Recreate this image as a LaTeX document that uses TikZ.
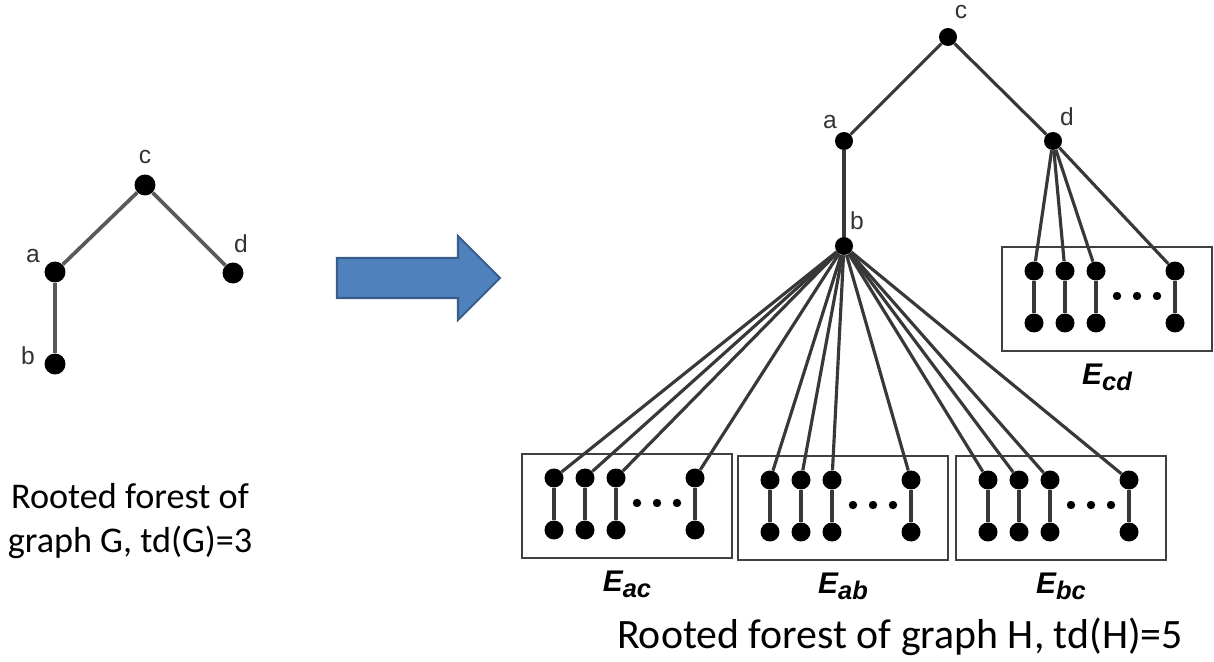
\documentclass[tikz,border=0pt]{standalone}
\usepackage{fontspec}
\setmainfont{Carlito}
\newfontfamily\arialfont{Liberation Sans}
\usetikzlibrary{positioning}

\definecolor{arrowblue}{RGB}{79,129,189}
\definecolor{arrowedge}{RGB}{56,93,138}
\definecolor{edgegray}{RGB}{56,56,56}

\tikzset{
  gdot/.style={circle, fill=black, inner sep=0pt, minimum size=0.42cm},
  hdot/.style={circle, fill=black, inner sep=0pt, minimum size=0.36cm},
  edot/.style={circle, fill=black, inner sep=0pt, minimum size=0.38cm},
  gedge/.style={draw=black!65, line width=2.1pt},
  hedge/.style={draw=edgegray, line width=1.8pt},
  ebox/.style={draw=black!75, line width=1.6pt, minimum width=4.2cm, minimum height=2.08cm, inner sep=0pt},
  vlab/.style={font=\arialfont\fontsize{14}{16}\selectfont, text=black!80, inner sep=0pt},
  elab/.style={font=\arialfont\bfseries\itshape\fontsize{17}{19}\selectfont, inner sep=0pt},
  caption/.style={font=\fontsize{20.6}{25.5}\selectfont, align=center, inner sep=0pt}
}

\begin{document}
\begin{tikzpicture}[x=0.02cm, y=-0.02cm]
    \useasboundingbox (0,0) rectangle (1214,662);

    % Arbol de G
    \node[gdot] (Gc) at (145,185) {};
    \node[gdot] (Ga) at (55,272) {};
    \node[gdot] (Gd) at (233,273) {};
    \node[gdot] (Gb) at (55,364) {};
    \draw[gedge] (Gc) -- (Ga);
    \draw[gedge] (Gc) -- (Gd);
    \draw[gedge] (Ga) -- (Gb);
    \node[vlab] (Glc) at (145,157) {c};
    \node[vlab] (Gla) at (33,256) {a};
    \node[vlab] (Gld) at (241,244) {d};
    \node[vlab] (Glb) at (28,356) {b};
    \node[caption] (capG) at (130,521) {Rooted forest of\\graph G, td(G)=3};

    % Flecha
    \filldraw[fill=arrowblue, draw=arrowedge, line width=1.2pt]
        (337,258) -- (458,258) -- (458,236) -- (500,278)
        -- (458,320) -- (458,298) -- (337,298) -- cycle;

    % Arbol de H
    \node[hdot] (Hc) at (948,37) {};
    \node[hdot] (Ha) at (844,141) {};
    \node[hdot] (Hd) at (1053,141) {};
    \node[hdot] (Hb) at (844,246) {};
    \draw[hedge] (Hc) -- (Ha);
    \draw[hedge] (Hc) -- (Hd);
    \draw[hedge] (Ha) -- (Hb);
    \node[vlab] (Hlc) at (961,12) {c};
    \node[vlab] (Hla) at (830,122) {a};
    \node[vlab] (Hld) at (1067,117) {d};
    \node[vlab] (Hlb) at (857,221) {b};

    % Cajas de aristas
    \foreach \nm/\bx/\by in {ac/522/454, ab/738/456, bc/956/456, cd/1002/247} {
        \node[ebox] (box-\nm) at (\bx+105,\by+52) {};
        \foreach \i/\dx in {1/32,2/63,3/94,4/173} {
            \node[edot] (\nm-t\i) at (\bx+\dx,\by+24) {};
            \node[edot] (\nm-b\i) at (\bx+\dx,\by+76) {};
            \draw[hedge] (\nm-t\i) -- (\nm-b\i);
        }
        \foreach \dx in {115,135,155}
            \fill (\bx+\dx,\by+49) circle (4.2);
        \node[elab] (lab-\nm) at (\bx+105,\by+130) {E\raisebox{-3.5pt}{\fontsize{14.5}{16}\selectfont\nm}};
    }

    % Aristas desde b y d
    \foreach \nm in {ac,ab,bc}
        \foreach \i in {1,...,4}
            \draw[hedge] (Hb) -- (\nm-t\i);
    \foreach \i in {1,...,4}
        \draw[hedge] (Hd) -- (cd-t\i);

    \node[caption, font=\fontsize{23.8}{28}\selectfont] (capH) at (900,637) {Rooted forest of graph H, td(H)=5};
\end{tikzpicture}
\end{document}
